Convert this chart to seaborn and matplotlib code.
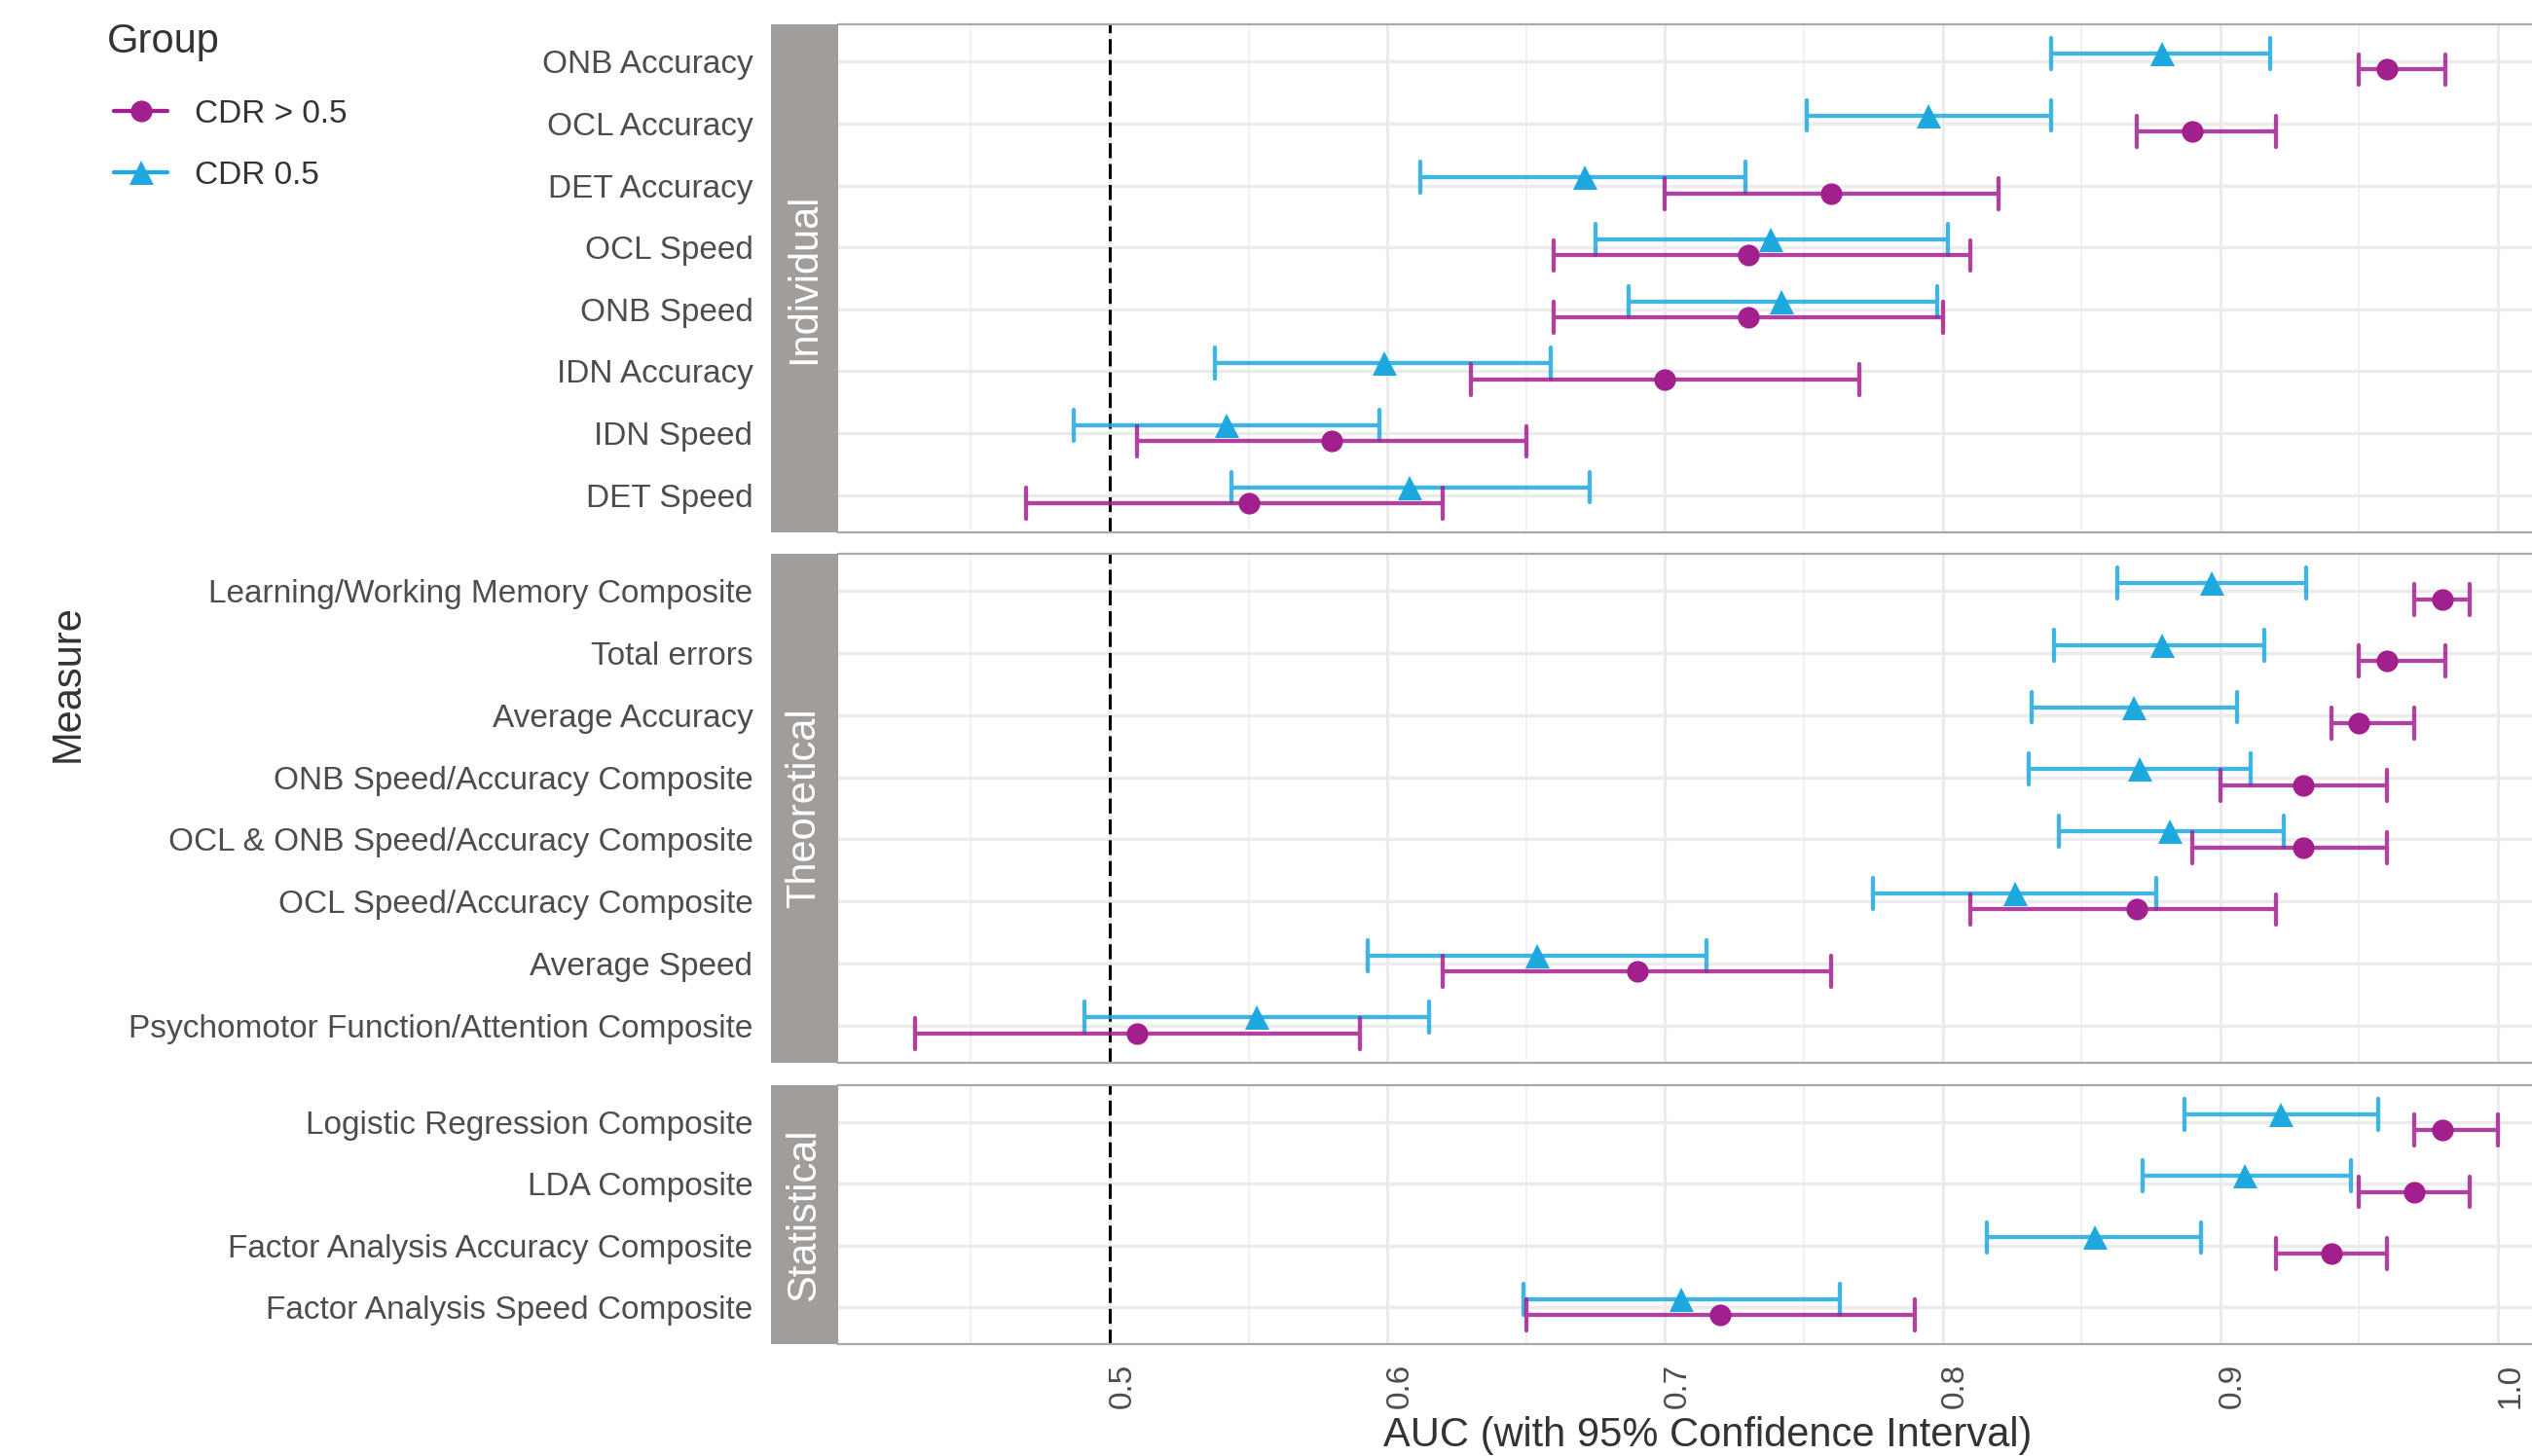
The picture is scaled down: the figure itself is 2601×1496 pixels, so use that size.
import numpy as np
import pandas as pd
import matplotlib
matplotlib.use("Agg")
import matplotlib.pyplot as plt
import matplotlib.transforms as mtransforms
from matplotlib.patches import Rectangle
from matplotlib.lines import Line2D
import seaborn as sns

# measures per panel (top to bottom)
measures_individual = ["ONB Accuracy", "OCL Accuracy", "DET Accuracy", "OCL Speed",
                       "ONB Speed", "IDN Accuracy", "IDN Speed", "DET Speed"]
measures_theoretical = ["Learning/Working Memory Composite", "Total errors", "Average Accuracy",
                        "ONB Speed/Accuracy Composite", "OCL & ONB Speed/Accuracy Composite",
                        "OCL Speed/Accuracy Composite", "Average Speed",
                        "Psychomotor Function/Attention Composite"]
measures_statistical = ["Logistic Regression Composite", "LDA Composite",
                        "Factor Analysis Accuracy Composite", "Factor Analysis Speed Composite"]
panels = ["Individual", "Theoretical", "Statistical"]

# CDR 0.5 (blue triangles): auc, lower, upper -- same order as the measures above
mild_auc = [0.879, 0.795, 0.671, 0.738, 0.742, 0.599, 0.542, 0.608,
            0.897, 0.879, 0.869, 0.871, 0.882, 0.826, 0.654, 0.553,
            0.922, 0.909, 0.855, 0.706]
mild_lo = [0.839, 0.751, 0.612, 0.675, 0.687, 0.538, 0.487, 0.544,
           0.863, 0.840, 0.832, 0.831, 0.842, 0.775, 0.593, 0.491,
           0.887, 0.872, 0.816, 0.649]
mild_hi = [0.918, 0.839, 0.729, 0.802, 0.798, 0.659, 0.597, 0.673,
           0.931, 0.916, 0.906, 0.911, 0.923, 0.877, 0.715, 0.615,
           0.957, 0.947, 0.893, 0.763]

# CDR > 0.5 (magenta circles)
severe_auc = [0.960, 0.890, 0.760, 0.730, 0.730, 0.700, 0.580, 0.550,
              0.980, 0.960, 0.950, 0.930, 0.930, 0.870, 0.690, 0.510,
              0.980, 0.970, 0.940, 0.720]
severe_lo = [0.950, 0.870, 0.700, 0.660, 0.660, 0.630, 0.510, 0.470,
             0.970, 0.950, 0.940, 0.900, 0.890, 0.810, 0.620, 0.430,
             0.970, 0.950, 0.920, 0.650]
severe_hi = [0.981, 0.920, 0.820, 0.810, 0.800, 0.770, 0.650, 0.620,
             0.990, 0.981, 0.970, 0.960, 0.960, 0.920, 0.760, 0.590,
             1.000, 0.990, 0.960, 0.790]

groups = ["CDR 0.5", "CDR > 0.5"]
palette = {"CDR 0.5": "#1EA8E0", "CDR > 0.5": "#A2208E"}

# long table: lower / estimate / upper rows, median = estimate, min/max = CI
all_measures = measures_individual + measures_theoretical + measures_statistical
panel_of = ["Individual"] * 8 + ["Theoretical"] * 8 + ["Statistical"] * 4
rows = []
for i, m in enumerate(all_measures):
    for g, est, lo, hi in [("CDR 0.5", mild_auc, mild_lo, mild_hi),
                           ("CDR > 0.5", severe_auc, severe_lo, severe_hi)]:
        for v in (lo[i], est[i], hi[i]):
            rows.append({"panel": panel_of[i], "measure": m, "group": g, "auc": v})
df = pd.DataFrame(rows)

sns.set_theme(style="white")
plt.rcParams["font.family"] = ["Liberation Sans", "DejaVu Sans"]

W, H = 2601, 1496
fig = plt.figure(figsize=(W / 100, H / 100), dpi=100)

# panel boxes in pixels: (top, bottom)
boxes = [(25, 547), (569, 1092), (1115, 1381)]
left_px, right_px = 861, 2601
strip_w = 69
orders = [measures_individual, measures_theoretical, measures_statistical]
msize = {"o": 16, "^": 18}

for k, (panel, order, (top, bot)) in enumerate(zip(panels, orders, boxes)):
    ax = fig.add_axes([left_px / W, 1 - bot / H, (right_px - left_px) / W, (bot - top) / H])
    sub = df[df["panel"] == panel]
    sns.pointplot(data=sub, x="auc", y="measure", hue="group", order=order,
                  hue_order=groups, palette=palette, orient="h",
                  estimator="median", errorbar=lambda v: (v.min(), v.max()),
                  dodge=0.26, markers=["^", "o"], linestyles=["none", "none"],
                  capsize=0.5, err_kws={"linewidth": 3.1, "alpha": 0.85},
                  markersize=16, markeredgewidth=0, legend=False, ax=ax)
    for ln in ax.lines:
        if ln.get_marker() in msize:
            ln.set_markersize(msize[ln.get_marker()])
            ln.set_zorder(4)
    n = len(order)
    ax.set_ylim(n - 1 + 0.6, -0.6)
    ax.set_xlim(0.4022, 1.0123)
    ax.set_xticks([0.5, 0.6, 0.7, 0.8, 0.9, 1.0])
    ax.set_xticks([0.45, 0.55, 0.65, 0.75, 0.85, 0.95], minor=True)
    ax.grid(axis="x", which="major", color="#EBEBEB", linewidth=2.2)
    ax.grid(axis="x", which="minor", color="#F0F0F0", linewidth=1.4)
    ax.grid(axis="y", which="major", color="#EBEBEB", linewidth=2.4)
    ax.set_axisbelow(True)
    ax.axvline(0.5, color="black", linestyle=(0, (5, 2)), linewidth=2.2, zorder=1)
    ax.set_xlabel("")
    ax.set_ylabel("")
    for s in ["left", "right"]:
        ax.spines[s].set_visible(False)
    for s in ["top", "bottom"]:
        ax.spines[s].set_color("#A9A9A9")
        ax.spines[s].set_linewidth(1.6)
    ax.tick_params(axis="y", length=0, pad=63, labelsize=24, labelcolor="#4D4D4D")
    ax.tick_params(axis="x", which="both", length=0)
    if k < 2:
        ax.tick_params(axis="x", labelbottom=False)
    else:
        ax.tick_params(axis="x", labelsize=24, labelcolor="#4D4D4D", pad=14)
        ax.set_xticklabels(["0.5", "0.6", "0.7", "0.8", "0.9", "1.0"], rotation=90, va="top")
        shift = mtransforms.ScaledTranslation(13 / 100, 0, fig.dpi_scale_trans)
        for lab in ax.get_xticklabels():
            lab.set_transform(lab.get_transform() + shift)

    # facet strip on the left of the panel
    sw = strip_w / (right_px - left_px)
    ax.add_patch(Rectangle((-sw, 0), sw, 1, transform=ax.transAxes, clip_on=False,
                           facecolor="#A19D9A", edgecolor="none", zorder=5))
    ax.text(-sw / 2, 0.5, panel, transform=ax.transAxes, rotation=90, ha="center",
            va="center", color="white", fontsize=30, zorder=6)

# legend (title drawn as separate text)
handles = [Line2D([0], [0], color=palette["CDR > 0.5"], marker="o", markersize=16,
                  linewidth=3.1, markeredgewidth=0),
           Line2D([0], [0], color=palette["CDR 0.5"], marker="^", markersize=18,
                  linewidth=3.1, markeredgewidth=0)]
leg = fig.legend(handles, ["CDR > 0.5", "CDR 0.5"], loc="upper left",
                 bbox_to_anchor=(87 / W, 1 - 72 / H), frameon=False, fontsize=24,
                 alignment="left", handlelength=1.65,
                 handletextpad=0.85, labelspacing=0.95)
for t in leg.get_texts():
    t.set_color("#333333")
fig.text(110 / W, 1 - 43 / H, "Group", ha="left", va="center", fontsize=30, color="#333333")

fig.text(70 / W, 1 - 702 / H, "Measure", rotation=90, ha="center", va="center",
         fontsize=30, color="#333333")
fig.text(1754 / W, 1 - 1475 / H, "AUC (with 95% Confidence Interval)", ha="center",
         va="center", fontsize=30, color="#333333")

fig.savefig("out.png", dpi=100)
